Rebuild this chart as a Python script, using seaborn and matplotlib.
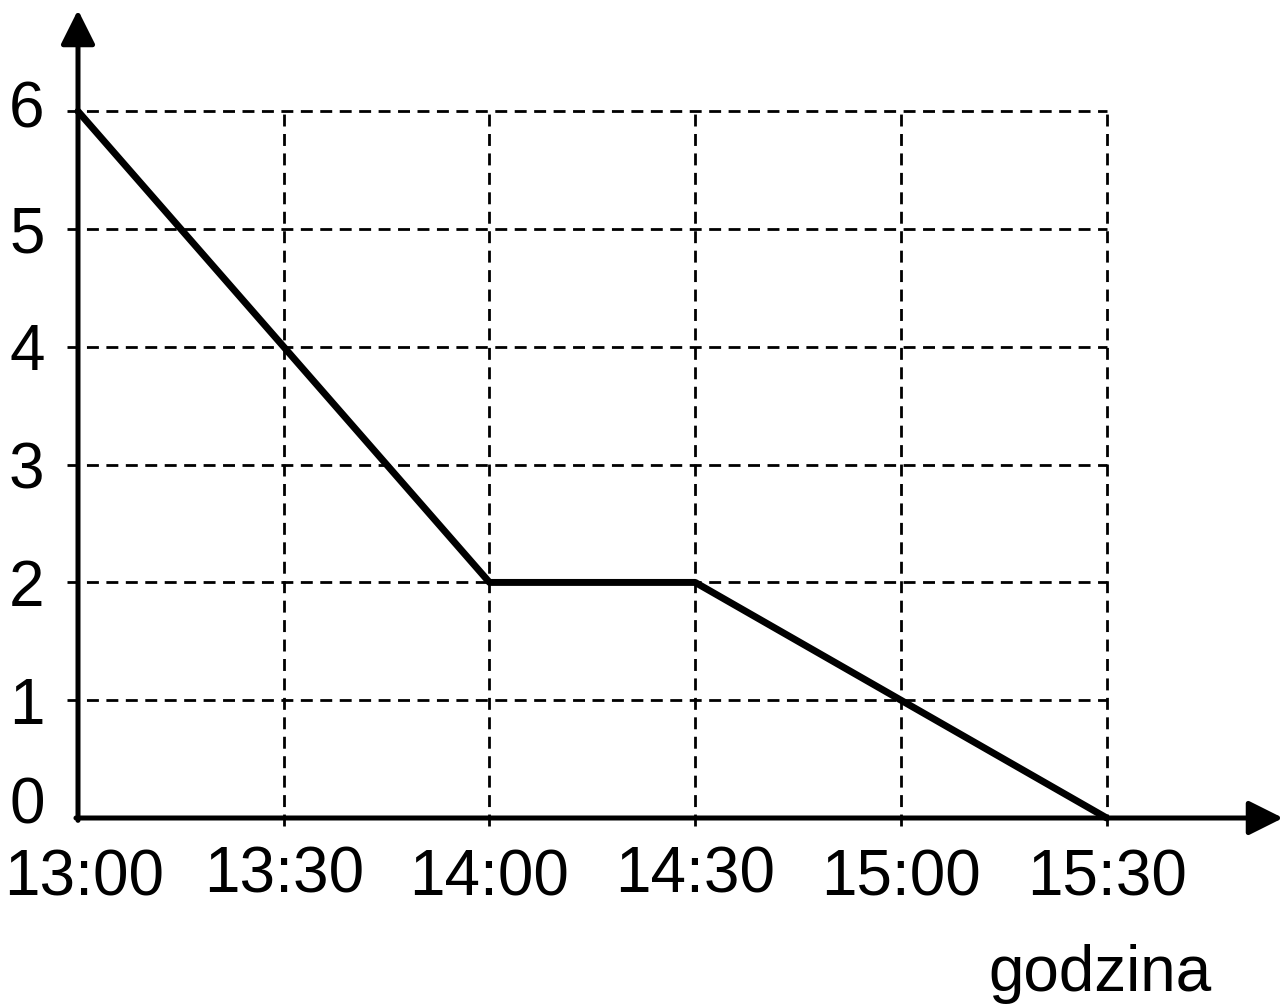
import numpy as np
import pandas as pd
import matplotlib
matplotlib.use("Agg")
import matplotlib.pyplot as plt
import matplotlib.transforms as mtransforms
import seaborn as sns

# data
times = ["13:00", "14:00", "14:30", "15:30"]
values = [6, 2, 2, 0]
tick_times = ["13:00", "13:30", "14:00", "14:30", "15:00", "15:30"]
y_ticks = [0, 1, 2, 3, 4, 5, 6]
x_label = "godzina"


def minutes(t):
    # minutes after 13:00
    h, m = t.split(":")
    return (int(h) - 13) * 60 + int(m)


df = pd.DataFrame({"t": [minutes(t) for t in times], "v": values})
tick_pos = [minutes(t) for t in tick_times]

sns.set_style("white")
plt.rcParams["font.family"] = ["Liberation Sans", "DejaVu Sans"]
plt.rcParams["lines.scale_dashes"] = False

fig = plt.figure(figsize=(12.88, 10.06), dpi=100)
ax = fig.add_axes([78 / 1288, 188 / 1006, (1283 - 78) / 1288, (818 - 10) / 1006])
xmax, ymax = 175.7, 6.86
ax.set_xlim(0, xmax)
ax.set_ylim(0, ymax)

# dashed grid, only up to 15:30 and 6
dash = (0, (8.6, 5.4))
ax.hlines(y_ticks[1:], -1.6, tick_pos[-1], colors="black", lw=2.0,
          linestyles=[dash], clip_on=False, zorder=1)
ax.vlines(tick_pos[1:], -0.07, y_ticks[-1], colors="black", lw=2.0,
          linestyles=[dash], clip_on=False, zorder=1)

sns.lineplot(data=df, x="t", y="v", color="black", lw=5.0, ax=ax,
             zorder=3, clip_on=False)

# axes as arrows
for s in ax.spines.values():
    s.set_visible(False)
arrow = dict(arrowstyle="-|>,head_length=1.4,head_width=0.7", lw=3.6,
             color="black", shrinkA=0, shrinkB=0, mutation_scale=15)
ax.annotate("", xy=(xmax, 0), xytext=(-0.3, 0), arrowprops=arrow,
            annotation_clip=False, zorder=4)
ax.annotate("", xy=(0, ymax), xytext=(0, -0.02), arrowprops=arrow,
            annotation_clip=False, zorder=4)

ax.set_xticks(tick_pos, tick_times)
ax.set_yticks(y_ticks, [str(v) for v in y_ticks])
ax.tick_params(axis="both", length=0, labelsize=46, colors="black")
ax.tick_params(axis="x", pad=22)
ax.tick_params(axis="y", pad=24)
ax.set_xlabel("")
ax.set_ylabel("")

# small shifts of some labels, as in the picture (pixels)
y_shift = {"0": 18, "6": 7}
x_shift = {"13:30": (0, 3), "14:30": (0, 3), "13:00": (6, 0)}
for lab in ax.get_yticklabels():
    dy = y_shift.get(lab.get_text(), 0) / 100
    lab.set_transform(lab.get_transform() +
                      mtransforms.ScaledTranslation(0, dy, fig.dpi_scale_trans))
for lab in ax.get_xticklabels():
    dx, dy = x_shift.get(lab.get_text(), (0, 0))
    lab.set_transform(lab.get_transform() +
                      mtransforms.ScaledTranslation(dx / 100, dy / 100,
                                                    fig.dpi_scale_trans))

ax.text(149.0, -1.47, x_label, fontsize=46, ha="center", va="baseline",
        color="black")

fig.savefig("out.png", dpi=100)
